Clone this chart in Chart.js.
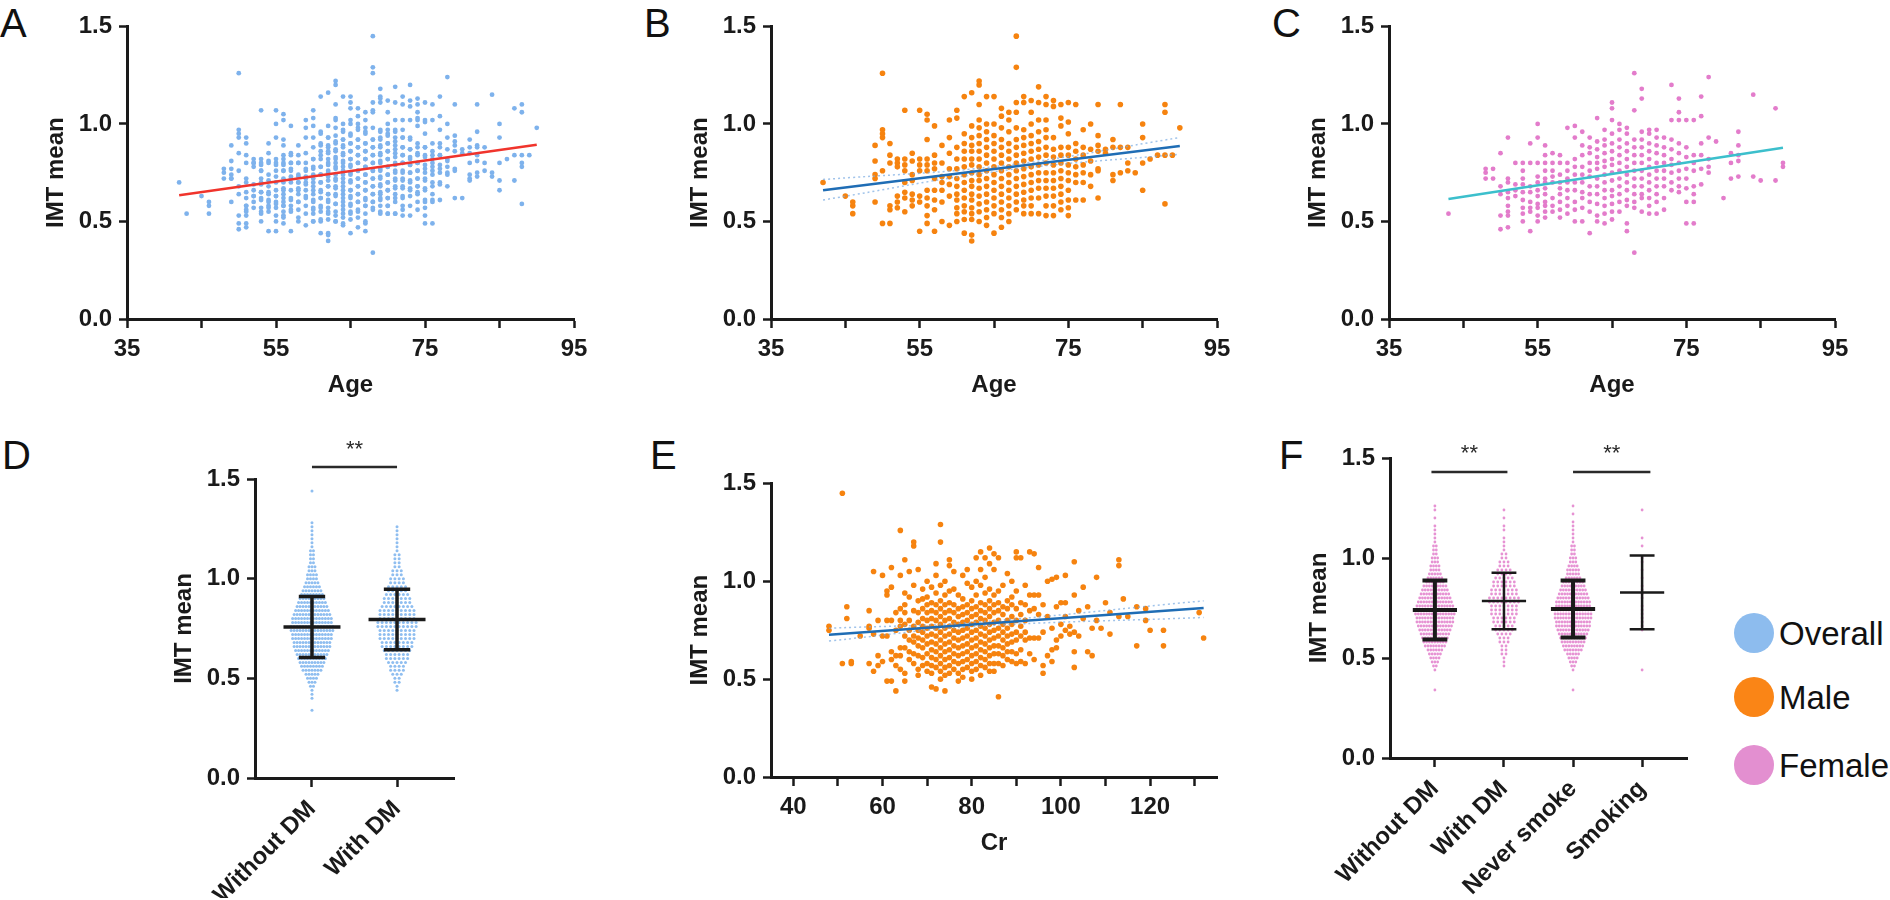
<!DOCTYPE html>
<html>
<head>
<meta charset="utf-8">
<script src="https://cdn.jsdelivr.net/npm/chart.js@4.4.1/dist/chart.umd.min.js"></script>
<style>
  body { margin: 0; background: #fff; }
  #fig { position: relative; width: 1890px; height: 900px; overflow: hidden; font-family: "Liberation Sans", Arial, sans-serif; color: #111; }
  canvas { position: absolute; }
  .tag { position: absolute; font-size: 40px; line-height: 1; }
  .key { position: absolute; font-size: 33px; line-height: 1; }
  .dot { position: absolute; width: 40px; height: 40px; border-radius: 50%; }
</style>
</head>
<body>
<div id="fig">
  <div class="tag" style="left:0px;top:3px">A</div>
  <div class="tag" style="left:644px;top:3px">B</div>
  <div class="tag" style="left:1272px;top:3px">C</div>
  <div class="tag" style="left:2px;top:435px">D</div>
  <div class="tag" style="left:650px;top:435px">E</div>
  <div class="tag" style="left:1279px;top:435px">F</div>

  <div class="dot" style="left:1734px;top:613px;background:#8dbcee"></div>
  <div class="key" style="left:1779px;top:617px">Overall</div>
  <div class="dot" style="left:1734px;top:677px;background:#fa8516"></div>
  <div class="key" style="left:1779px;top:681px">Male</div>
  <div class="dot" style="left:1734px;top:745px;background:#e38fd0"></div>
  <div class="key" style="left:1779px;top:749px">Female</div>

  <canvas id="chartA"></canvas>
  <canvas id="chartB"></canvas>
  <canvas id="chartC"></canvas>
  <canvas id="chartD"></canvas>
  <canvas id="chartE"></canvas>
  <canvas id="chartF"></canvas>
</div>
<script>
// ---- data ----
const ageTicks = [35, 45, 55, 65, 75, 85, 95];
const ageLabels = [35, 55, 75, 95];
const imtTicks = [0, 0.5, 1.0, 1.5];
const crTicks = [40, 50, 60, 70, 80, 90, 100, 110, 120, 130];
const crLabels = [40, 60, 80, 100, 120];

// "age: IMT values (x100)" per age column
const maleCols = [
  "42:70", "45:63", "46:60 58 54", "49:89 81 74 72 60", "50:126 97 95 93 76 49",
  "51:90 84 80 58 56 49", "52:82 80 78 63 60 57", "53:107 82 79 76 70 65 62 55",
  "54:85 81 74 71 64 61 58", "55:107 82 79 76 63 60 45", "56:105 102 92 82 79 76 66 62 58 53 49",
  "57:99 84 80 77 72 66 61 56 45", "58:89 80 73 70 66 60 50", "59:102 93 85 77 73 69 63 48",
  "60:107 103 88 82 77 72 68 64 61 57 54 50", "61:114 95 90 86 82 78 74 70 66 62 58 55 51 44",
  "62:116 99 93 89 86 82 79 75 71 68 64 61 57 54 51 43 40",
  "63:122 120 110 102 98 94 90 86 82 78 74 71 67 63 59 55 50",
  "64:114 100 96 92 88 84 80 76 72 68 64 60 56 52 48",
  "65:114 100 94 90 86 82 78 74 70 66 62 58 54 44",
  "66:108 104 98 92 88 84 80 76 72 68 64 60 56 52 47",
  "67:106 102 96 90 86 82 78 74 70 66 62 58 54 50",
  "68:145 129 111 106 98 92 88 84 80 76 72 68 64 60 56",
  "69:114 111 97 93 89 85 81 77 73 69 65 61 58 54",
  "70:112 106 100 94 90 86 82 78 74 70 66 62 58 54",
  "71:119 111 102 96 91 87 83 79 75 71 67 62 54",
  "72:114 110 102 97 93 88 84 80 75 71 67 63 58 53",
  "73:112 109 93 87 83 79 75 71 67 63 58 53",
  "74:110 103 99 88 84 80 76 72 68 64 60 56",
  "75:111 101 95 88 84 79 75 71 66 61 57 53",
  "76:110 90 86 82 78 74 70 61", "77:97 88 84 79 75 70 61", "78:100 87 81 74 68",
  "79:110 94 89 86 77 76 62", "80:87 85", "81:92 88 74 71", "82:110 88 75", "83:88 80 76",
  "84:75", "85:100 93 80 66", "86:82", "87:84", "88:110 106 84 59", "89:84", "90:98"
];

const femaleCols = [
  "43:54", "48:77 75 72", "49:77 72", "50:85 68 64 53 46", "51:93 72 70 65 62 58 55 53 47",
  "52:80 69 66 63", "53:80 76 72 69 65 61 57 54 50", "54:90 80 68 65 60 57 55 45",
  "55:100 93 80 73 70 66 63 59 57 53 50", "56:89 84 80 76 72 70 67 64 60 58 55 52",
  "57:85 80 76 73 70 62 58 55", "58:84 80 74 70 67 64 60 56 52", "59:98 80 76 72 70 66 62 58 54",
  "60:99 93 82 78 74 70 66 60 56 50", "61:96 89 84 78 74 70 65 62 57 50",
  "62:93 88 85 80 76 73 68 64 60 55 44", "63:103 91 87 83 80 77 72 68 64 59 53 50",
  "64:97 92 89 85 81 78 74 70 66 62 58 54 49",
  "65:111 108 102 95 90 86 82 79 75 71 66 63 59 55 51",
  "66:100 97 92 88 84 80 76 72 68 64 60 55", "67:98 95 90 86 82 78 74 70 66 61 58 49 45",
  "68:126 107 92 88 84 80 76 72 68 64 60 57 34", "69:118 113 96 92 88 84 80 76 72 68 64 62 55",
  "70:97 95 90 86 82 78 74 70 66 62 58 54", "71:97 93 89 85 80 76 72 68 64 60 54",
  "72:93 88 84 80 76 72 68 62 56", "73:120 102 92 87 82 79 75 70 66",
  "74:113 106 102 90 85 80 76 72 68 65", "75:102 88 83 77 72 67 60 49",
  "76:102 84 80 76 68 64 60 49", "77:114 104 90 84 77 69", "78:124 93 82 78 75",
  "79:91", "80:62", "81:85 80 72", "82:96 89 84 81 73", "84:115 73", "85:71", "87:108 71", "88:80 78"
];

// "Cr: IMT values (x100)" for male patients
const crCols = [
  "48:77 75", "51:145 58", "52:87 81", "53:59 58", "55:72", "57:85 77 76 58", "58:105 73 54",
  "59:80 62 57", "60:103 72 59", "61:95 93 80 72 49", "62:107 97 80 64 60 49", "63:84 75 62 57 44",
  "64:126 103 86 80 77 66 62 55", "65:111 94 88 84 78 72 66 53 49", "66:105 92 80 75 70 64 60",
  "67:120 118 98 85 77 72 69 63 58", "68:106 90 84 79 75 71 67 62 55 52",
  "69:96 91 86 81 77 74 70 66 61 57", "70:100 92 88 84 80 76 72 68 63 58 54",
  "71:97 89 85 81 77 73 69 65 61 57 53 46", "72:109 103 94 88 84 80 76 72 68 64 60 56 45",
  "73:129 120 98 90 86 82 78 74 70 66 62 58 54 50", "74:100 93 88 84 80 76 72 68 64 60 56 52 44",
  "75:111 108 95 89 85 81 77 73 69 65 61 57 53", "76:105 96 88 84 79 75 71 67 63 59 55",
  "77:93 86 82 78 74 70 66 62 58 53 49", "78:103 91 87 83 79 75 71 67 63 59 55 51",
  "79:106 99 88 84 80 76 72 68 64 60 56", "80:97 90 86 82 78 74 70 66 62 58 54 50",
  "81:112 100 93 87 83 79 75 71 67 63 59 55", "82:115 106 98 89 85 81 77 73 69 65 61 57 52",
  "83:112 102 94 88 84 80 76 72 68 64 60 56", "84:117 109 96 90 86 82 78 74 70 66 62 58 54",
  "85:114 106 93 88 84 79 75 71 67 63 58 54", "86:112 95 89 85 80 76 72 67 63 58 41",
  "87:98 87 83 78 74 70 66 62 57", "88:104 90 86 80 76 72 68 64 60", "89:100 92 88 82 78 73 69 64 59",
  "90:115 112 95 86 80 74 70 63 58", "91:112 89 83 77 72 65 59", "92:98 88 80 74 70 58",
  "93:115 93 85 71 63", "94:114 93 86 71 60", "95:107 93 83 71", "96:88 74 57 53", "97:100 82 62",
  "98:101 76 65 59", "99:102 87 70 66", "100:89 78 72", "101:103 89 82 75", "102:77 73",
  "103:110 93 74 64 56", "104:85 72", "105:97 81", "106:87 64", "107:76 62", "108:102 80",
  "109:76", "110:89", "111:84 73", "113:111 108 82", "114:91", "115:82", "117:87 67",
  "119:86 80", "120:75", "123:75 67", "131:84", "132:71"
];

// regression lines and confidence bands
const fitAll = [[42, 0.634], [90, 0.893]];
const fitMale = [[42, 0.66], [90, 0.887]];
const fitFemale = [[43, 0.615], [88, 0.878]];
const fitCr = [[48, 0.727], [132, 0.863]];
const bandMaleHi = [[42, 0.715], [66, 0.785], [90, 0.93]];
const bandMaleLo = [[42, 0.61], [66, 0.76], [90, 0.845]];
const bandCrHi = [[48, 0.76], [80, 0.79], [132, 0.9]];
const bandCrLo = [[48, 0.695], [80, 0.768], [132, 0.815]];

// dot plots: counts per 0.02 IMT bin, starting at the given value
const dmGroups = ['Without DM', 'With DM'];
const dmStart = [0.34, 0.44];
const dmCounts = [
  [1,0,0,1,1,1,2,3,4,5, 7,8,9,10,11,12,13,13,14,14, 15,15,14,14,13,12,11,10,9,8,
   7,6,5,4,4,3,3,2,2,2, 2,1,1,1,1,1,1,1,0,0, 0,0,0,0,0,1],
  [1,1,2,2,3,4,4,5,6,6, 7,8,8,9,9,9,10,10,9,9, 9,8,7,7,6,5,5,4,4,3, 3,2,2,2,2,1,1,1,1,1, 1,1]
];
const dmMean = [0.758, 0.795];
const dmSd = [0.153, 0.152];

const femGroups = ['Without DM', 'With DM', 'Never smoke', 'Smoking'];
const femStart = [0.34, 0.46, 0.34, 0.44];
const femCounts = [
  [1,0,0,0,0,1,2,3,4,5, 6,8,9,10,11,12,13,14,14,15, 15,14,13,12,11,10,9,7,6,5,
   4,4,3,3,2,2,2,1,1,1, 1,1,0,1,0,1,1],
  [1,1,1,2,2,2,3,3,4,5, 5,6,6,7,7,7,8,8,7,7, 6,6,5,4,4,3,3,2,2,1, 1,1,1,0,1,1,0,1,0,1],
  [1,0,0,0,0,1,2,3,4,5, 7,8,9,10,11,12,13,13,14,14, 14,13,13,12,11,10,9,8,6,5,
   5,4,3,3,2,2,2,1,1,1, 1,1,1,0,1,0,1],
  [1,0,0,0,0,0,0,0,0,0, 1,1,1,1,1,1,1,0,1,1, 1,1,0,1,0,1,0,1,1,0, 0,1,0,1,0,0,0,0,0,0, 1]
];
const femMean = [0.740, 0.785, 0.745, 0.828];
const femSd = [0.148, 0.141, 0.142, 0.184];

const dmSig = [{ from: 0, to: 1, label: '**' }];
const femSig = [{ from: -0.05, to: 1.05, label: '**' }, { from: 2, to: 3.12, label: '**' }];

// ---- helpers ----
const FONT = '"Liberation Sans", Arial, sans-serif';
const INK = '#1a1a1a';

function parseCols(cols) {
  const pts = [];
  cols.forEach(c => {
    const [x, ys] = c.split(':');
    ys.split(' ').forEach(v => pts.push({ x: +x, y: v / 100 }));
  });
  return pts;
}

function swarm(starts, counts, gaps) {
  const pts = [];
  counts.forEach((row, g) => row.forEach((n, j) => {
    for (let k = 0; k < n; k++) {
      pts.push({ x: g + (k - (n - 1) / 2) * gaps[g], y: starts[g] + j * 0.02 });
    }
  }));
  return pts;
}

function toXY(arr) { return arr.map(([x, y]) => ({ x, y })); }

function points(data, color, r) {
  return { data, order: 1, pointRadius: r, pointBackgroundColor: color, pointBorderWidth: 0, showLine: false };
}

function line(data, color, w, dash, tension) {
  return {
    data: toXY(data), order: 0, showLine: true, pointRadius: 0,
    borderColor: color, borderWidth: w, borderDash: dash || [], tension: tension || 0
  };
}

// mean line, SD whisker and caps for each group
function meanSd(mean, sd, half, cap, widths) {
  return mean.map((m, i) => ({
    data: [
      { x: i - half, y: m }, { x: i + half, y: m }, { x: i, y: null },
      { x: i, y: m - sd[i] }, { x: i, y: m + sd[i] }, { x: i, y: null },
      { x: i - cap, y: m + sd[i] }, { x: i + cap, y: m + sd[i] }, { x: i, y: null },
      { x: i - cap, y: m - sd[i] }, { x: i + cap, y: m - sd[i] }
    ],
    order: 0, showLine: true, spanGaps: false, pointRadius: 0,
    borderColor: INK, borderWidth: widths[i], borderCapStyle: 'butt'
  }));
}

function axis(min, max, vals, label, title, fix, fitSize, extra) {
  return Object.assign({
    type: 'linear', min, max,
    afterBuildTicks: s => { s.ticks = vals.map(v => ({ value: v })); },
    afterFit: s => { s[fix] = fitSize; },
    border: { display: true, color: INK, width: 3 },
    grid: { drawOnChartArea: false, drawTicks: true, tickLength: 9, tickWidth: 2.5, tickColor: INK },
    ticks: { color: INK, autoSkip: false, font: { family: FONT, size: 24, weight: 'bold' }, callback: label, padding: 7 },
    title: { display: !!title, text: title, color: INK, padding: 0, font: { family: FONT, size: 24, weight: 'bold' } }
  }, extra || {});
}

const sigMarks = {
  id: 'sigMarks',
  afterDraw(chart, args, opts) {
    const { ctx } = chart;
    const xs = chart.scales.x;
    const top = chart.chartArea.top;
    ctx.save();
    ctx.strokeStyle = '#2a2a2a';
    ctx.fillStyle = '#2a2a2a';
    ctx.lineWidth = 2.5;
    ctx.font = '22px ' + FONT;
    ctx.textAlign = 'center';
    ctx.textBaseline = 'alphabetic';
    opts.pairs.forEach(p => {
      const x0 = xs.getPixelForValue(p.from), x1 = xs.getPixelForValue(p.to);
      ctx.beginPath();
      ctx.moveTo(x0, top + opts.lineDy);
      ctx.lineTo(x1, top + opts.lineDy);
      ctx.stroke();
      ctx.fillText(p.label, (x0 + x1) / 2, top + opts.textDy);
    });
    ctx.restore();
  }
};

function panel(id, area, box, datasets, xAxis, yTitle, sig) {
  const el = document.getElementById(id);
  el.width = box.yW + area.w + box.padR;
  el.height = box.padT + area.h + box.xH;
  el.style.left = (area.l - box.yW) + 'px';
  el.style.top = (area.t - box.padT) + 'px';
  xAxis.afterFit = s => { s.height = box.xH; };
  new Chart(el, {
    type: 'scatter',
    data: { datasets },
    options: {
      responsive: false,
      animation: false,
      events: [],
      layout: { padding: { left: 0, top: box.padT, right: box.padR, bottom: 0 } },
      scales: {
        x: xAxis,
        y: axis(0, 1.5, imtTicks, v => v.toFixed(1), yTitle, 'width', box.yW,
          { grid: { drawOnChartArea: false, drawTicks: true, tickLength: 8, tickWidth: 2.5, tickColor: INK } })
      },
      plugins: { legend: { display: false }, tooltip: { enabled: false }, sigMarks: sig || { pairs: [] } }
    },
    plugins: [sigMarks]
  });
}

// ---- build ----
const male = parseCols(maleCols);
const female = parseCols(femaleCols);
const cr = parseCols(crCols);

const ageBox = { yW: 85, padT: 16, padR: 22, xH: 81 };
const ageLabel = v => ageLabels.includes(v) ? String(v) : '';
const ageAxis = () => axis(35, 95, ageTicks, ageLabel, 'Age', 'height', ageBox.xH);

panel('chartA', { l: 127, t: 21, w: 447, h: 298 }, ageBox,
  [line(fitAll, '#f0342c', 2.5), points(male.concat(female), '#7eb2ec', 2.4)],
  ageAxis(), 'IMT mean');

panel('chartB', { l: 771, t: 21, w: 446, h: 298 }, ageBox,
  [line(fitMale, '#1f6db5', 2.5), line(bandMaleHi, 'rgba(120,170,225,0.7)', 1.5, [2, 3], 0.4),
   line(bandMaleLo, 'rgba(120,170,225,0.7)', 1.5, [2, 3], 0.4), points(male, '#f6830f', 2.8)],
  ageAxis(), 'IMT mean');

panel('chartC', { l: 1389, t: 21, w: 446, h: 298 }, ageBox,
  [line(fitFemale, '#3cbfcc', 2.5), points(female, '#e37ccb', 2.4)],
  ageAxis(), 'IMT mean');

const crLabel = v => crLabels.includes(v) ? String(v) : '';
panel('chartE', { l: 771, t: 478, w: 446, h: 299 }, ageBox,
  [line(fitCr, '#1f6db5', 2.5), line(bandCrHi, 'rgba(120,170,225,0.7)', 1.5, [2, 3], 0.4),
   line(bandCrLo, 'rgba(120,170,225,0.7)', 1.5, [2, 3], 0.4), points(cr, '#f6830f', 2.8)],
  axis(35, 135, crTicks, crLabel, 'Cr', 'height', ageBox.xH), 'IMT mean');

const rotTicks = { color: INK, autoSkip: false, minRotation: 45, maxRotation: 45, padding: 8,
  font: { family: FONT, size: 24, weight: 'bold' } };

const dmBox = { yW: 85, padT: 50, padR: 10, xH: 120 };
const dmAxis = axis(-0.67, 1.67, [0, 1], v => dmGroups[v], '', 'height', dmBox.xH);
dmAxis.ticks = Object.assign({}, rotTicks, { callback: v => dmGroups[v] });
panel('chartD', { l: 255, t: 479, w: 199, h: 299 }, dmBox,
  meanSd(dmMean, dmSd, 0.335, 0.155, [3.5, 3.5])
    .concat([points(swarm(dmStart, dmCounts, [0.035, 0.05]), '#8fbef0', 1.5)]),
  dmAxis, 'IMT mean', { pairs: dmSig, lineDy: -12, textDy: -23 });

const femBox = { yW: 85, padT: 30, padR: 10, xH: 140 };
const femAxis = axis(-0.65, 3.65, [0, 1, 2, 3], v => femGroups[v], '', 'height', femBox.xH);
femAxis.ticks = Object.assign({}, rotTicks, { callback: v => femGroups[v] });
panel('chartF', { l: 1390, t: 458, w: 297, h: 300 }, femBox,
  meanSd(femMean, femSd, 0.32, 0.18, [4, 2.5, 4, 2.5])
    .concat([points(swarm(femStart, femCounts, [0.04, 0.06, 0.04, 0.045]), '#e692d3', 1.4)]),
  femAxis, 'IMT mean', { pairs: femSig, lineDy: 14, textDy: 2 });
</script>
</body>
</html>
